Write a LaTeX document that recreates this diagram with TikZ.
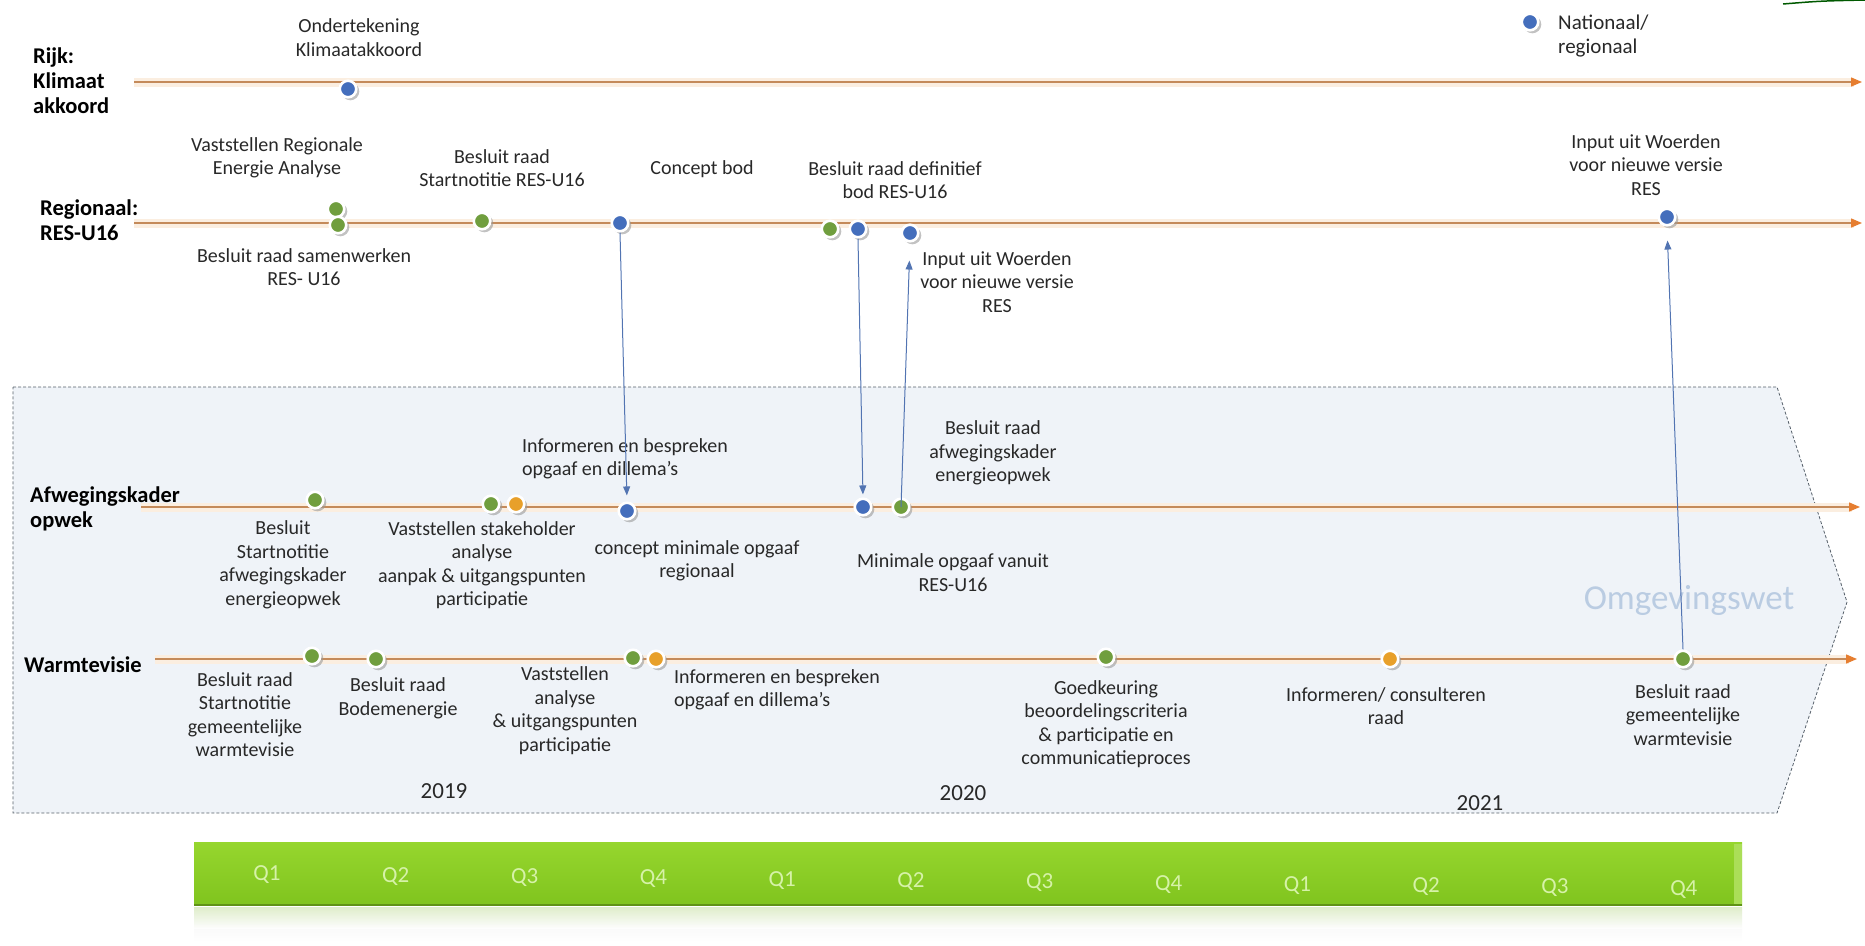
\documentclass[tikz,border=0pt]{standalone}
\usepackage{fontspec}
\setmainfont{Carlito}
\usetikzlibrary{arrows.meta, shadows}

\definecolor{lijnoranje}{RGB}{196,138,90}
\definecolor{tiporanje}{RGB}{230,126,48}
\definecolor{gloed}{RGB}{251,238,224}
\definecolor{stipgroen}{RGB}{112,158,62}
\definecolor{stipblauw}{RGB}{68,110,188}
\definecolor{stipgeel}{RGB}{232,160,42}
\definecolor{pijlblauw}{RGB}{82,116,178}
\definecolor{vlak}{RGB}{239,243,248}
\definecolor{rand}{RGB}{85,95,105}
\definecolor{balkgroen}{RGB}{128,196,30}
\definecolor{balklicht}{RGB}{150,214,46}
\definecolor{qtekst}{RGB}{214,242,168}
\definecolor{omgev}{RGB}{186,204,226}
\definecolor{tekst}{RGB}{40,40,40}

\tikzset{
    tijdlijn/.style={draw=lijnoranje, line width=1.3pt,
        -{Triangle[length=11pt,width=9pt,color=tiporanje]}},
    stip/.style={circle, fill=#1, draw=white, line width=2.6pt,
        minimum size=16.5pt, inner sep=0pt,
        drop shadow={shadow xshift=2.2pt, shadow yshift=-2.2pt,
            shadow scale=1.08, fill=black!40, opacity=.6}},
    verbinding/.style={draw=pijlblauw, line width=1pt,
        -{Triangle[length=9pt,width=7pt]}},
    tekstje/.style={text=tekst, font=\fontsize{20}{23.5}\selectfont,
        align=center, inner sep=0pt},
    kop/.style={font=\bfseries\fontsize{22.5}{25}\selectfont,
        align=left, inner sep=0pt, anchor=west},
    jaar/.style={text=tekst, font=\fontsize{23}{26}\selectfont, inner sep=0pt},
    kwartaal/.style={text=qtekst, font=\fontsize{23}{26}\selectfont, inner sep=0pt}
}

\begin{document}
\begin{tikzpicture}[x=1pt, y=-1pt]
        \useasboundingbox (0, 0) rectangle (1865, 945);

        % Omgevingswet vlak
        \draw[rand, fill=vlak, line width=0.8pt, dash pattern=on 3pt off 2pt]
        (13, 387) -- (1777, 387) -- (1847, 602) -- (1777, 813) -- (13, 813) -- cycle;
        \node[text=omgev, font=\fontsize{35}{38}\selectfont, inner sep=0pt]
        (omgevingswet) at (1689, 600) {Omgevingswet};

        % tijdlijnen
        \coordinate (rijk-a) at (134, 82);      \coordinate (rijk-b) at (1862, 82);
        \coordinate (reg-a) at (134, 223);      \coordinate (reg-b) at (1862, 223);
        \coordinate (afw-a) at (141, 507);      \coordinate (afw-b) at (1860, 507);
        \coordinate (warm-a) at (155, 659);     \coordinate (warm-b) at (1857, 659);
        \foreach \lijn in {rijk, reg, afw, warm}
        {
            \draw[gloed, line width=9pt] (\lijn-a) -- ([xshift=-8pt]\lijn-b);
            \draw[tijdlijn] (\lijn-a) -- (\lijn-b);
        }

        \node[kop] (rijk) at (33, 80.5) {Rijk:\\Klimaat\\akkoord};
        \node[kop] (regionaal) at (40, 220) {Regionaal:\\RES-U16};
        \node[kop] (afweging) at (30, 509) {Afwegingskader\\opwek};
        \node[kop] (warmte) at (24, 665) {Warmtevisie};

        % legenda
        \node[stip=stipblauw] (legenda) at (1530, 22) {};
        \node[text=tekst, font=\fontsize{21}{24}\selectfont, align=left,
            inner sep=0pt, anchor=west] (legendatekst) at (1558, 36)
        {Nationaal/\\regionaal};

        % Rijk
        \node[stip=stipblauw] (rk1) at (348, 89) {};
        \node[tekstje] (rk1-tekst) at (359, 37.5) {Ondertekening\\Klimaatakkoord};

        % Regionaal
        \node[stip=stipgroen] (rb1) at (336, 209) {};
        \node[stip=stipgroen] (rb2) at (338, 225) {};
        \node[stip=stipgroen] (rb3) at (482, 221) {};
        \node[stip=stipblauw] (rb4) at (620, 223) {};
        \node[stip=stipgroen] (rb5) at (830, 229) {};
        \node[stip=stipblauw] (rb6) at (858, 229) {};
        \node[stip=stipblauw] (rb7) at (910, 233) {};
        \node[stip=stipblauw] (rb8) at (1667, 217) {};

        \node[tekstje] (rb1-tekst) at (277, 158) {Vaststellen Regionale\\Energie Analyse};
        \node[tekstje] (rb2-tekst) at (304, 267) {Besluit raad samenwerken\\RES- U16};
        \node[tekstje] (rb3-tekst) at (502, 168) {Besluit raad\\Startnotitie RES-U16};
        \node[tekstje] (rb4-tekst) at (702, 169) {Concept bod};
        \node[tekstje] (rb6-tekst) at (895, 180) {Besluit raad definitief\\bod RES-U16};
        \node[tekstje] (rb7-tekst) at (997, 282) {Input uit Woerden\\voor nieuwe versie\\RES};
        \node[tekstje] (rb8-tekst) at (1646, 165) {Input uit Woerden\\voor nieuwe versie\\RES};

        % Afwegingskader
        \node[stip=stipgroen] (ab1) at (315, 500) {};
        \node[stip=stipgroen] (ab2) at (491, 504) {};
        \node[stip=stipgeel] (ab3) at (516, 504) {};
        \node[stip=stipblauw] (ab4) at (627, 511) {};
        \node[stip=stipblauw] (ab5) at (863, 507) {};
        \node[stip=stipgroen] (ab6) at (901, 507) {};

        \node[tekstje] (ab1-tekst) at (283, 565)
        {Besluit\\Startnotitie\\afwegingskader\\energieopwek};
        \node[tekstje] (ab2-tekst) at (482, 565)
        {Vaststellen stakeholder\\analyse\\aanpak \& uitgangspunten\\participatie};
        \node[tekstje, align=left, anchor=west] (ab4-boven) at (522, 459)
        {Informeren en bespreken\\opgaaf en dillema’s};
        \node[tekstje] (ab4-tekst) at (697, 561) {concept minimale opgaaf\\regionaal};
        \node[tekstje] (ab6-tekst) at (993, 453) {Besluit raad\\afwegingskader\\energieopwek};
        \node[tekstje] (ab5-tekst) at (953, 572.5) {Minimale opgaaf vanuit\\RES-U16};

        % Warmtevisie
        \node[stip=stipgroen] (wb1) at (312, 656) {};
        \node[stip=stipgroen] (wb2) at (376, 659) {};
        \node[stip=stipgroen] (wb3) at (633, 658) {};
        \node[stip=stipgeel] (wb4) at (656, 659) {};
        \node[stip=stipgroen] (wb5) at (1106, 657) {};
        \node[stip=stipgeel] (wb6) at (1390, 659) {};
        \node[stip=stipgroen] (wb7) at (1683, 659) {};

        \node[tekstje] (wb1-tekst) at (245, 714.5)
        {Besluit raad\\Startnotitie\\gemeentelijke\\warmtevisie};
        \node[tekstje] (wb2-tekst) at (398, 698.5) {Besluit raad\\Bodemenergie};
        \node[tekstje] (wb3-tekst) at (565, 710.5)
        {Vaststellen\\analyse\\\& uitgangspunten\\participatie};
        \node[tekstje, align=left, anchor=west] (wb4-tekst) at (674, 690)
        {Informeren en bespreken\\opgaaf en dillema’s};
        \node[tekstje] (wb5-tekst) at (1106, 724)
        {Goedkeuring\\beoordelingscriteria\\\& participatie en\\communicatieproces};
        \node[tekstje] (wb6-tekst) at (1386, 706) {Informeren/ consulteren\\raad};
        \node[tekstje] (wb7-tekst) at (1683, 715) {Besluit raad\\gemeentelijke\\warmtevisie};

        \node[jaar] (j2019) at (444, 791) {2019};
        \node[jaar] (j2020) at (963, 793) {2020};
        \node[jaar] (j2021) at (1480, 803) {2021};

        % pijlen tussen de lijnen
        \draw[verbinding, shorten >=6pt] (rb4.south) -- (ab4.north);
        \draw[verbinding, shorten >=3pt] (rb6.south) -- (ab5.north);
        \draw[verbinding, shorten >=18pt] (ab6.center) -- (rb7.south);
        \draw[verbinding, shorten >=14pt] (wb7.north) -- (rb8.south);

        % kwartalen
        \shade[top color=gray!10, bottom color=white] (194, 907) rectangle (1742, 942);
        \shade[top color=balkgroen!35, bottom color=white, opacity=.6]
        (194, 907) rectangle (1742, 928);
        \shade[top color=balklicht, bottom color=balkgroen] (194, 842) rectangle (1742, 905);
        \fill[balklicht!80!white] (1734, 844) rectangle (1742, 904);
        \draw[balkgroen!75!black, line width=1.5pt] (194, 905) -- (1742, 905);
        \foreach \i/\q in {0/Q1, 1/Q2, 2/Q3, 3/Q4, 4/Q1, 5/Q2,
                           6/Q3, 7/Q4, 8/Q1, 9/Q2, 10/Q3, 11/Q4}
        {
            \node[kwartaal] (q\i) at ({267 + 128.8*\i}, {875 + 1.3*\i}) {\q};
        }

        % logo rand
        \draw[green!35!black, line width=1.5pt] (1783, 4) .. controls (1820, 1) .. (1865, 0);

    \end{tikzpicture}
\end{document}
